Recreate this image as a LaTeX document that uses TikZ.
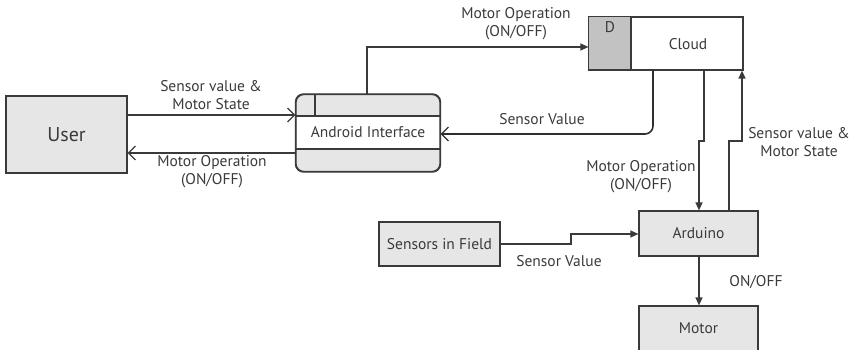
\documentclass[tikz,border=0pt]{standalone}
\usepackage{fontspec}
\setmainfont{PT Sans}
\usetikzlibrary{arrows.meta}
\definecolor{boxfill}{HTML}{E6E6E6}
\definecolor{dfill}{HTML}{C2C2C2}
\definecolor{edge}{HTML}{3A3A3A}
\tikzset{
  box/.style={draw=edge, line width=1.2pt, fill=boxfill, inner sep=0pt, text=edge, font=\fontsize{15.5}{17}\selectfont},
  conn/.style={draw=edge, line width=1.3pt},
  openarr/.style={conn, -{Straight Barb[length=7pt,width=14pt,line width=1.2pt]}},
  filarr/.style={conn, -{Triangle[length=8pt,width=7pt]}},
  lbl/.style={font=\fontsize{15.5}{18}\selectfont, align=center, inner sep=0pt, text=edge}
}
\begin{document}
\begin{tikzpicture}[x=1pt,y=-1pt]
\useasboundingbox (0,0) rectangle (858,350);
% nodes
\node[box, minimum width=121pt, minimum height=77pt] (user) at (66.5,134.5) {\fontsize{20}{22}\selectfont User};
\node[box, rounded corners=8pt, minimum width=144pt, minimum height=77pt] (android) at (368,133) {};
\fill[white] (296.6,116) rectangle (439.4,149);
\draw[edge, line width=1.1pt] (296,116) -- (440,116) (296,149) -- (440,149) (315,94.5) -- (315,116);
\draw[edge, line width=1.2pt, rounded corners=8pt] (android.north west) rectangle (android.south east);
\node[lbl] at (368,132) {Android Interface};
\node[box, fill=white, minimum width=154pt, minimum height=53pt] (cloud) at (666,43.5) {};
\draw[edge, line width=1.2pt, fill=dfill] (cloud.north west) rectangle (631,70);
\node[lbl] at (610,27) {D};
\node[lbl] at (688,44) {Cloud};
\node[box, minimum width=119pt, minimum height=45pt] (arduino) at (698.5,233.5) {Arduino};
\node[box, minimum width=121pt, minimum height=44pt] (sensors) at (439.5,244) {Sensors in Field};
\node[box, minimum width=119pt, minimum height=45pt] (motor) at (698.5,328.5) {Motor};
% connectors
\draw[openarr] (user.east |- 0,115) -- (android.west |- 0,115);
\node[lbl] at (211,95) {Sensor value \&\\Motor State};
\draw[openarr] (android.west |- 0,153) -- (user.east |- 0,153);
\node[lbl] at (212,172) {Motor Operation\\(ON/OFF)};
\draw[filarr] (android.north -| 367,0) -- (367,47) -- (cloud.west |- 0,47);
\node[lbl] at (516,24) {Motor Operation\\(ON/OFF)};
\draw[openarr, line width=1.6pt, draw=edge!80!black] (cloud.south -| 653,0) -- (653,126) to[out=270,in=0] (645,134) -- (android.east |- 0,134);
\node[lbl] at (542,119) {Sensor Value};
\draw[filarr] (cloud.south -| 704,0) -- (704,141) -- (699,141) -- (arduino.north -| 699,0);
\node[lbl, align=center] at (641,177) {Motor Operation\\(ON/OFF)};
\draw[filarr] (arduino.north -| 729,0) -- (729,141) -- (742,141) -- (cloud.south -| 742,0);
\node[lbl] at (799,142) {Sensor value \&\\Motor State};
\draw[filarr] (sensors.east) -- (571,244) -- (571,234) -- (arduino.west |- 0,234);
\node[lbl] at (559,261) {Sensor Value};
\draw[filarr] (arduino.south -| 699,0) -- (motor.north -| 699,0);
\node[lbl] at (756,282) {ON/OFF};
\end{tikzpicture}
\end{document}
